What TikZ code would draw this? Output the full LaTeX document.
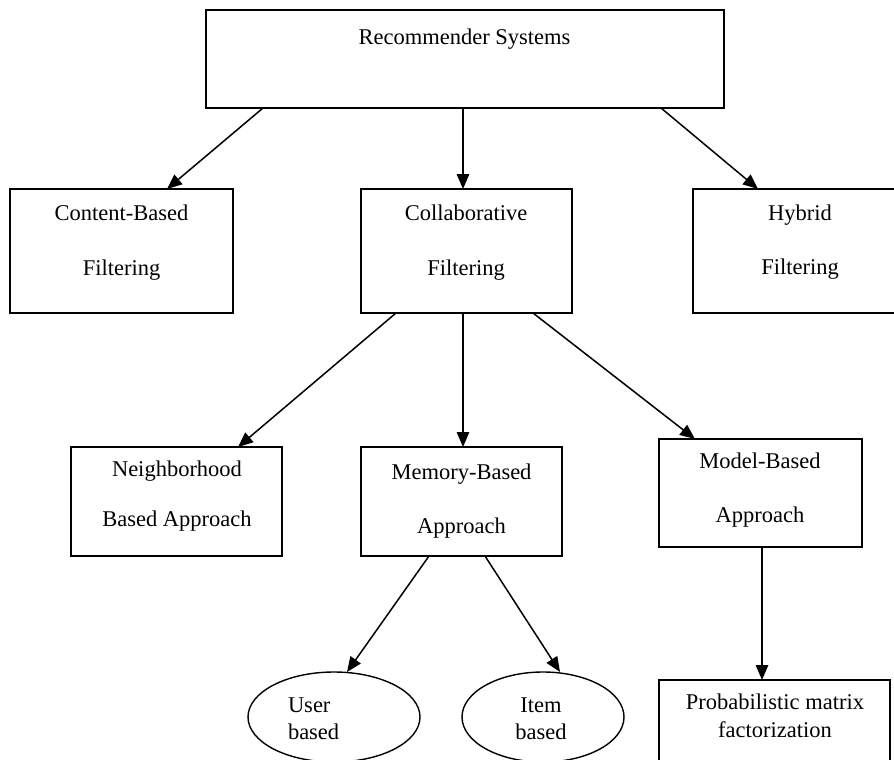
\documentclass[tikz,border=0pt]{standalone}
\usepackage{fontspec}
\setmainfont{Liberation Serif}
\usetikzlibrary{arrows.meta,shapes.geometric}
\begin{document}
\begin{tikzpicture}[x=1pt,y=-1pt,
  box/.style={draw=black,line width=1.6pt,fill=white,rectangle,inner sep=0pt,outer sep=0pt},
  oval/.style={draw=black,line width=1.4pt,fill=white,ellipse,inner sep=0pt,outer sep=0pt},
  txt/.style={inner sep=0pt,outer sep=0pt,anchor=base,font=\fontsize{22.5}{26}\selectfont},
  txtl/.style={txt,anchor=base west},
  arr/.style={draw=black,line width=1.5pt,-{Triangle[length=15pt,width=12.5pt]}}]
\useasboundingbox (0,0) rectangle (894,760);
\fill[white] (0,0) rectangle (894,760);
\clip (0,0) rectangle (894,760);

% boxes
\node[box,minimum width=518pt,minimum height=98pt] (rs) at (465,59) {};
\node[box,minimum width=223pt,minimum height=124pt] (cbf) at (121.5,251) {};
\node[box,minimum width=211pt,minimum height=124pt] (cf) at (466.5,251) {};
\node[box,minimum width=214pt,minimum height=124pt] (hf) at (800,251) {};
\node[box,minimum width=211pt,minimum height=109pt] (nb) at (176.5,501.5) {};
\node[box,minimum width=201pt,minimum height=109pt] (mb) at (461.5,501.5) {};
\node[box,minimum width=203pt,minimum height=108pt] (mod) at (760.5,493) {};
\node[box,minimum width=231pt,minimum height=110pt] (pmf) at (774.5,735) {};
\node[oval,minimum width=172pt,minimum height=90pt] (user) at (334,717) {};
\node[oval,minimum width=162pt,minimum height=90pt] (item) at (543,717) {};

% texts
\node[txt] (rs-t) at (464.5,44.5) {Recommender Systems};
\node[txt] (cbf-t1) at (121.5,220) {Content-Based};
\node[txt] (cbf-t2) at (121.5,275) {Filtering};
\node[txt] (cf-t1) at (466,220) {Collaborative};
\node[txt] (cf-t2) at (466,275) {Filtering};
\node[txt] (hf-t1) at (800,220) {Hybrid};
\node[txt] (hf-t2) at (800,274) {Filtering};
\node[txt] (nb-t1) at (177,476) {Neighborhood};
\node[txt] (nb-t2) at (177,526) {Based Approach};
\node[txt] (mb-t1) at (461.5,479) {Memory-Based};
\node[txt] (mb-t2) at (461.5,533) {Approach};
\node[txt] (mod-t1) at (760,468) {Model-Based};
\node[txt] (mod-t2) at (760,522) {Approach};
\node[txt] (pmf-t1) at (775,709) {Probabilistic matrix};
\node[txt] (pmf-t2) at (775,737) {factorization};
\node[txtl] (user-t1) at (288,712) {User};
\node[txtl] (user-t2) at (288,739) {based};
\node[txt] (item-t1) at (541,712) {Item};
\node[txt] (item-t2) at (541,739) {based};

% connectors
\draw[arr] ([xshift=-202pt]rs.south) -- ([xshift=45.5pt]cbf.north);
\draw[arr] ([xshift=-2pt]rs.south) -- ([xshift=-3.5pt]cf.north);
\draw[arr] ([xshift=196pt]rs.south) -- ([xshift=-42pt]hf.north);
\draw[arr] ([xshift=-70.5pt]cf.south) -- ([xshift=61.5pt]nb.north);
\draw[arr] ([xshift=-3.5pt]cf.south) -- ([xshift=1.5pt]mb.north);
\draw[arr] ([xshift=66.5pt]cf.south) -- ([xshift=-65.5pt]mod.north);
\draw[arr] ([xshift=-32.5pt]mb.south) -- ([xshift=13pt]user.north);
\draw[arr] ([xshift=23.5pt]mb.south) -- ([xshift=17pt]item.north);
\draw[arr] ([xshift=1.5pt]mod.south) -- ([xshift=-12.5pt]pmf.north);
\end{tikzpicture}
\end{document}
